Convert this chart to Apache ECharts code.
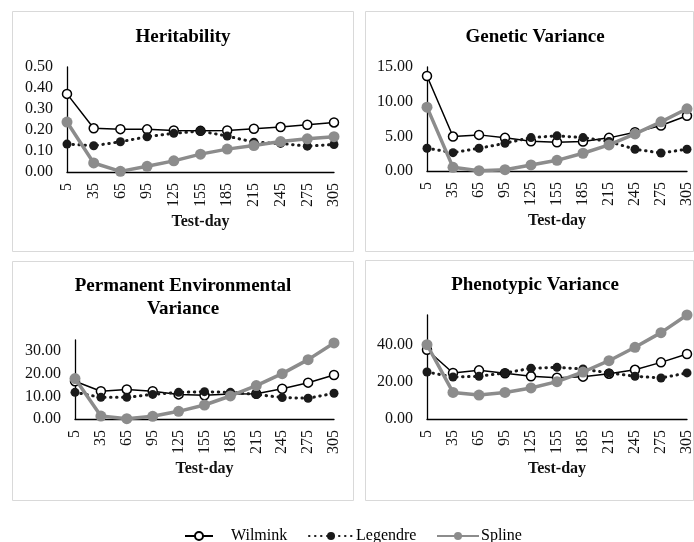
<!DOCTYPE html>
<html>
<head>
<meta charset="utf-8">
<script src="https://cdn.jsdelivr.net/npm/echarts@6/dist/echarts.min.js"></script>
<style>
html,body{margin:0;padding:0;background:#fff;}
#chart{width:694px;height:542px;}
</style>
</head>
<body>
<div id="chart"></div>
<script>
// ---- Data ----
const testDays = ['5','35','65','95','125','155','185','215','245','275','305'];
const seriesNames = ['Wilmink','Legendre','Spline'];
const panelTitles = ['Heritability','Genetic Variance','Permanent Environmental\nVariance','Phenotypic Variance'];
const xAxisName = 'Test-day';

const h2Wilmink  = [0.372,0.208,0.204,0.203,0.198,0.196,0.198,0.206,0.214,0.225,0.236];
const h2Legendre = [0.133,0.125,0.144,0.168,0.184,0.195,0.171,0.142,0.136,0.123,0.131];
const h2Spline   = [0.238,0.043,0.003,0.027,0.053,0.085,0.109,0.126,0.145,0.158,0.168];

const gvWilmink  = [13.70,4.97,5.21,4.78,4.29,4.15,4.25,4.78,5.60,6.56,7.96];
const gvLegendre = [3.28,2.65,3.28,4.00,4.82,5.07,4.82,4.25,3.14,2.60,3.14];
const gvSpline   = [9.21,0.53,0.05,0.19,0.87,1.54,2.56,3.76,5.35,7.09,8.97];

const peWilmink  = [16.7,12.3,13.1,12.3,10.9,10.5,11.1,11.2,13.4,16.1,19.5];
const peLegendre = [11.8,9.6,9.6,10.9,11.8,12.1,11.8,10.9,9.5,9.2,11.4];
const peSpline   = [17.9,1.3,0.15,1.2,3.4,6.2,10.2,14.8,20.1,26.3,33.7];

const pvWilmink  = [37.3,24.8,26.2,24.6,23.0,22.2,22.8,24.4,26.5,30.5,35.0];
const pvLegendre = [25.3,22.6,23.0,24.8,27.3,27.8,26.9,24.8,23.0,22.1,24.8];
const pvSpline   = [40.0,14.3,12.9,14.3,16.7,20.1,25.3,31.4,38.6,46.5,56.0];

const yMax      = [0.5, 15, 35, 56];
const yInterval = [0.1, 5, 10, 20];

const panelData = [
  [h2Wilmink, h2Legendre, h2Spline],
  [gvWilmink, gvLegendre, gvSpline],
  [peWilmink, peLegendre, peSpline],
  [pvWilmink, pvLegendre, pvSpline]
];

// ---- Layout ----
const FONT = '"Liberation Serif","Times New Roman",serif';
const grids = [
  {left:67,  right:360, top:67,  bottom:370},
  {left:427, right:7,   top:67,  bottom:371},
  {left:75,  right:360, top:340, bottom:123},
  {left:427, right:7,   top:315, bottom:123}
];
const titlePos = [
  {x:183, y:26},
  {x:535, y:26},
  {x:183, y:275},
  {x:535, y:274}
];
const borders = [
  {x:12, y:11, w:341, h:240},
  {x:365, y:11, w:328, h:240},
  {x:12, y:261, w:341, h:239},
  {x:365, y:260, w:328, h:240}
];

const chart = echarts.init(document.getElementById('chart'), null, {renderer:'canvas'});

const styles = [
  {color:'#000', lineStyle:{color:'#000', width:1.5}, symbol:'circle', symbolSize:9,
   itemStyle:{color:'#fff', borderColor:'#000', borderWidth:1.5}},
  {color:'#1a1a1a', lineStyle:{color:'#1a1a1a', width:3, type:[0.5,5.5], cap:'round'}, symbol:'circle', symbolSize:9,
   itemStyle:{color:'#1a1a1a', borderColor:'#1a1a1a', borderWidth:0}},
  {color:'#8c8c8c', lineStyle:{color:'#8c8c8c', width:3.5}, symbol:'circle', symbolSize:11,
   itemStyle:{color:'#8c8c8c', borderColor:'#8c8c8c', borderWidth:0}}
];

const series = [];
panelData.forEach((arrs, p) => {
  arrs.forEach((arr, s) => {
    series.push(Object.assign({
      type:'line', name:seriesNames[s], xAxisIndex:p, yAxisIndex:p,
      data:arr, showSymbol:true, animation:false, z:2+s, silent:true
    }, JSON.parse(JSON.stringify(styles[s]))));
  });
});

const legendText = {fontFamily:FONT, fontSize:16, color:'#000'};
const option = {
  backgroundColor:'#fff',
  animation:false,
  title: panelTitles.map((t,i)=>({
    text:t, left:titlePos[i].x, top:titlePos[i].y, textAlign:'center', padding:0,
    textStyle:{fontFamily:FONT, fontWeight:'bold', fontSize:19, color:'#000', lineHeight:23}
  })),
  graphic: borders.map(b=>({
    type:'rect', shape:{x:b.x+0.5, y:b.y+0.5, width:b.w, height:b.h}, silent:true, z:-1,
    style:{fill:'none', stroke:'#d9d9d9', lineWidth:1}
  })),
  legend: [
    {data:['Wilmink'], left:184, top:528, padding:0, itemWidth:28, itemHeight:10, textStyle:Object.assign({padding:[0,0,0,13]}, legendText)},
    {data:['Legendre'], left:308, top:528, padding:0, itemWidth:44, itemHeight:10, textStyle:Object.assign({padding:[0,0,0,-2]}, legendText)},
    {data:['Spline'], left:436, top:528, padding:0, itemWidth:42, itemHeight:10, textStyle:Object.assign({padding:[0,0,0,-3]}, legendText)}
  ],
  grid: grids.map(g=>Object.assign({containLabel:false, outerBoundsMode:'none'}, g)),
  xAxis: grids.map((g,i)=>({
    type:'category', gridIndex:i, data:testDays, boundaryGap:false,
    axisLine:{lineStyle:{color:'#000', width:1.3}}, axisTick:{show:false},
    axisLabel:{rotate:90, margin:11, fontFamily:FONT, fontSize:16, color:'#111', interval:0},
    name:xAxisName, nameLocation:'middle', nameGap:42, nameMoveOverlap:false,
    nameTextStyle:{fontFamily:FONT, fontWeight:'bold', fontSize:16, color:'#111'},
    splitLine:{show:false}
  })),
  yAxis: grids.map((g,i)=>({
    type:'value', gridIndex:i, min:0, max:yMax[i], interval:yInterval[i],
    axisLine:{show:true, lineStyle:{color:'#000', width:1.3}}, axisTick:{show:false},
    axisLabel:{margin:14, fontFamily:FONT, fontSize:16, color:'#111', showMaxLabel: (i<2),
      formatter:v=>v.toFixed(2)},
    splitLine:{show:false}
  })),
  series: series
};
chart.setOption(option);
</script>
</body>
</html>
